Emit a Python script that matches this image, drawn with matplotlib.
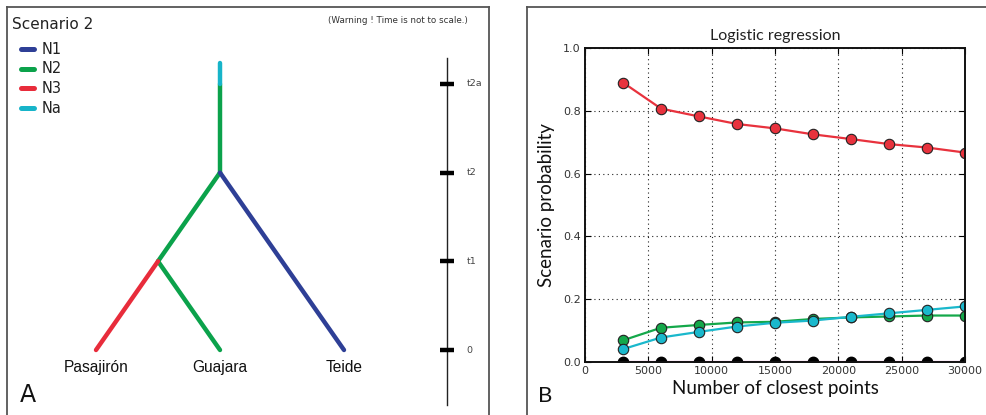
import matplotlib
matplotlib.use("Agg")
import matplotlib.pyplot as plt
from matplotlib import font_manager
from matplotlib.lines import Line2D

# ---------------- data ----------------
# Panel A: scenario tree
tip_names = ["Pasajirón", "Guajara", "Teide"]
time_labels = ["0", "t1", "t2", "t2a"]
pop_names = ["N1", "N2", "N3", "Na"]
pop_colors = ["#2e3f96", "#0ba24b", "#e82c3b", "#17b4c9"]

# branches: (x_start, level_start, x_end, level_end, population index)
branches = [
    (0.0, 0.0, 0.5, 1.0, 2),   # Pasajirón -> inner node  (N3)
    (1.0, 0.0, 0.5, 1.0, 1),   # Guajara -> inner node    (N2)
    (0.5, 1.0, 1.0, 2.0, 1),   # inner node -> root       (N2)
    (2.0, 0.0, 1.0, 2.0, 0),   # Teide -> root            (N1)
    (1.0, 2.0, 1.0, 3.0, 1),   # root -> t2a              (N2)
    (1.0, 3.0, 1.0, 3.24, 3),  # ancestral                (Na)
]

# Panel B: logistic regression posterior probabilities
n_closest = [3000, 6000, 9000, 12000, 15000, 18000, 21000, 24000, 27000, 30000]
prob_red = [0.890, 0.807, 0.782, 0.758, 0.744, 0.725, 0.710, 0.694, 0.683, 0.667]
prob_green = [0.069, 0.109, 0.118, 0.126, 0.128, 0.137, 0.142, 0.145, 0.148, 0.148]
prob_cyan = [0.041, 0.078, 0.096, 0.113, 0.125, 0.132, 0.144, 0.155, 0.166, 0.177]
prob_magenta = [0.0, 0.0, 0.0, 0.0, 0.0, 0.0, 0.0, 0.0, 0.0, 0.0]
prob_black = [0.0, 0.0, 0.0, 0.0, 0.0, 0.0, 0.0, 0.0, 0.0, 0.0]
x_ticks = [0, 5000, 10000, 15000, 20000, 25000, 30000]
y_ticks = [0.0, 0.2, 0.4, 0.6, 0.8, 1.0]

# ---------------- fonts ----------------
installed = {f.name for f in font_manager.fontManager.ttflist}
narrow = "Liberation Sans Narrow" if "Liberation Sans Narrow" in installed else "Liberation Sans"
tip_size = 12.5 if narrow == "Liberation Sans Narrow" else 11.2
humanist = "Lato" if "Lato" in installed else "DejaVu Sans"

W, H = 986, 415
fig = plt.figure(figsize=(W / 100, H / 100), dpi=100)


def fx(px):
    return px / W


def fy(py):
    return 1 - py / H


# ---------------- Panel A ----------------
axA = fig.add_axes([fx(7), 0, fx(489) - fx(7), fy(7)])
# tree units: x pixel = 96 + 124*u ; y pixel = 350 - 88.7*level
axA.set_xlim((7 - 96) / 124, (489 - 96) / 124)
axA.set_ylim((350 - 415) / 88.7, (350 - 7) / 88.7)
axA.set_xticks([])
axA.set_yticks([])
for side in ["left", "top", "right"]:
    axA.spines[side].set_color("#555555")
    axA.spines[side].set_linewidth(1.3)
axA.spines["bottom"].set_visible(False)

for x0, l0, x1, l1, p in branches:
    axA.plot([x0, x1], [l0, l1], color=pop_colors[p], lw=3.2,
             solid_capstyle="round", zorder=3 if p != 1 else 2)

for i, name in enumerate(tip_names):
    axA.text(i, -0.2, name, ha="center", va="center", fontsize=tip_size,
             family=narrow, color="#111111")

# time axis
tx = (447 - 96) / 124
axA.plot([tx, tx], [(350 - 58) / 88.7, (350 - 405) / 88.7], color="#222222", lw=1.0)
for lvl, lab in enumerate(time_labels):
    axA.plot([tx - 0.055, tx + 0.055], [lvl, lvl], color="black", lw=3.2,
             solid_capstyle="butt")
    axA.text(tx + 0.16, lvl, lab, ha="left", va="center", fontsize=6.8,
             family="DejaVu Sans", color="#444444")

# legend of population sizes
for k, (name, col) in enumerate(zip(pop_names, pop_colors)):
    yy = fy(49 + k * 19.7) / fy(7)
    axA.add_line(Line2D([0.029, 0.056], [yy, yy], transform=axA.transAxes,
                        color=col, lw=3.6, solid_capstyle="round"))
    axA.text(0.071, yy, name, transform=axA.transAxes, ha="left", va="center",
             fontsize=10.5, family="DejaVu Sans", color="#222222")

axA.text(0.011, fy(24) / fy(7), "Scenario 2", transform=axA.transAxes,
         ha="left", va="center", fontsize=11, family="DejaVu Sans", color="#222222")
axA.text((468 - 7) / 482, fy(20) / fy(7), "(Warning ! Time is not to scale.)",
         transform=axA.transAxes, ha="right", va="center", fontsize=6.3,
         family="DejaVu Sans", color="#333333")
axA.text((28 - 7) / 482, fy(395) / fy(7), "A", transform=axA.transAxes,
         ha="center", va="center", fontsize=17, family="DejaVu Sans", color="#111111")

# ---------------- Panel B frame ----------------
fig.add_artist(Line2D([fx(527), fx(527)], [fy(7), 0], color="#555555", lw=1.3))
fig.add_artist(Line2D([fx(527), 1], [fy(7), fy(7)], color="#555555", lw=1.3))

# ---------------- Panel B ----------------
axB = fig.add_axes([fx(585), fy(362), fx(965) - fx(585), fy(48) - fy(362)])
axB.set_xlim(0, 30000)
axB.set_ylim(0, 1.0)
axB.set_xticks(x_ticks)
axB.set_yticks(y_ticks)
axB.set_yticklabels([f"{v:.1f}" for v in y_ticks])
axB.tick_params(direction="in", top=True, right=True, length=4, width=0.8,
                labelsize=8, labelcolor="#333333", pad=3)
axB.grid(True, linestyle=(0, (1, 3)), color="#222222", lw=0.8)
for s in axB.spines.values():
    s.set_linewidth(1.4)
    s.set_color("#111111")

mk = dict(marker="o", markersize=7.5, markeredgecolor="#222222", markeredgewidth=0.8,
          lw=1.6)
axB.plot(n_closest, prob_red, color="#e8323d", markerfacecolor="#e8323d", **mk)
axB.plot(n_closest, prob_green, color="#14a84a", markerfacecolor="#14a84a", **mk)
axB.plot(n_closest, prob_cyan, color="#1ab8cc", markerfacecolor="#1ab8cc", **mk)
axB.plot(n_closest, prob_magenta, color="#e070c8", lw=1.6)
axB.plot(n_closest, prob_black, color="black", markerfacecolor="black", ls="none",
         marker="o", markersize=7.5, markeredgecolor="black")

axB.set_title("Logistic regression", fontsize=11.5, family=humanist, color="#222222",
              pad=6)
axB.set_ylabel("Scenario probability", fontsize=13.5, family=humanist, color="#111111",
               labelpad=6)
axB.set_xlabel("Number of closest points", fontsize=13.5, family=humanist,
               color="#111111", labelpad=3)
fig.text(fx(545), fy(396), "B", ha="center", va="center", fontsize=16,
         family=humanist, color="#111111")

fig.savefig("out.png", dpi=100)
